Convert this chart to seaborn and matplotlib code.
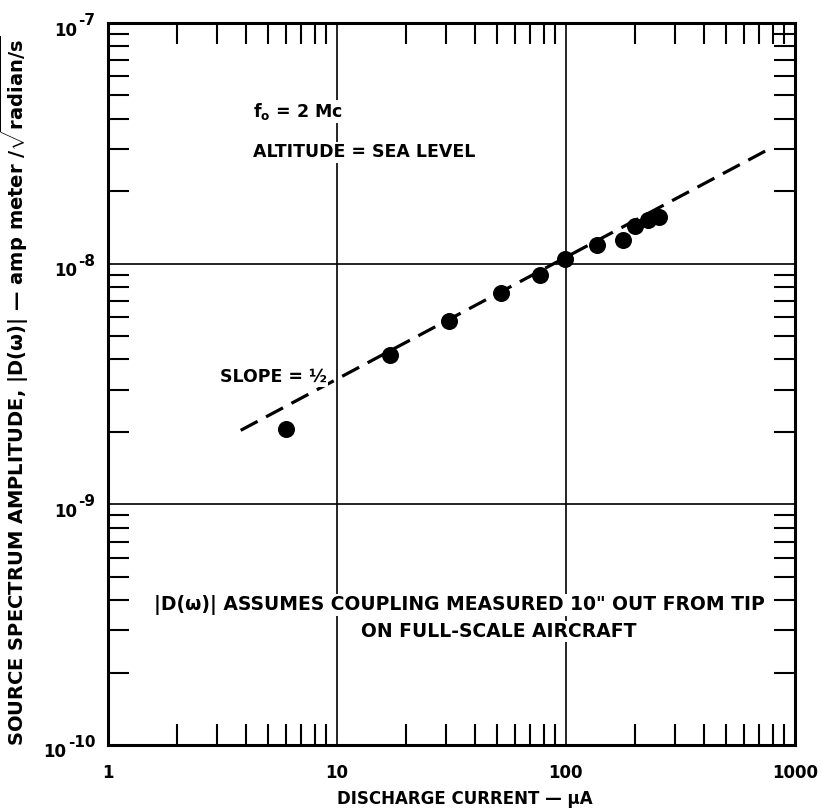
import matplotlib
matplotlib.use("Agg")
import matplotlib.pyplot as plt
import matplotlib.transforms as mtrans
import seaborn as sns
from matplotlib.ticker import LogLocator, FixedLocator, FixedFormatter, NullFormatter

# ---- data ----
current_uA = [6.0, 17.0, 31.0, 52.0, 77.0, 99.0, 137.0, 177.0, 201.0, 228.0, 256.0]
amplitude = [2.05e-9, 4.19e-9, 5.8e-9, 7.58e-9, 9.0e-9, 1.05e-8,
             1.2e-8, 1.25e-8, 1.44e-8, 1.52e-8, 1.57e-8]

# slope = 1/2 line (end points)
fit_current = [3.8, 750.0]
fit_amplitude = [2.03e-9, 2.95e-8]

x_ticks = [1, 10, 100, 1000]
x_tick_labels = ["1", "10", "100", "1000"]
y_ticks = [1e-10, 1e-9, 1e-8, 1e-7]
y_exponents = ["-10", "-9", "-8", "-7"]

# ---- style ----
sns.set_theme(style="ticks")
plt.rcParams["font.family"] = ["DejaVu Sans"]
plt.rcParams["font.weight"] = "bold"
plt.rcParams["text.color"] = "black"
plt.rcParams["axes.labelcolor"] = "black"
plt.rcParams["xtick.color"] = "black"
plt.rcParams["ytick.color"] = "black"
plt.rcParams["mathtext.fontset"] = "custom"
plt.rcParams["mathtext.rm"] = "DejaVu Sans:bold"
plt.rcParams["mathtext.bf"] = "DejaVu Sans:bold"
plt.rcParams["mathtext.it"] = "DejaVu Sans:bold"

fig = plt.figure(figsize=(8.21, 8.08), dpi=100)
ax = fig.add_axes([0.1315, 0.078, 0.8365, 0.8935])
ax.set(xscale="log", yscale="log")

sns.lineplot(x=fit_current, y=fit_amplitude, ax=ax, color="black", lw=2.3,
             linestyle=(0, (6, 3)), zorder=3)
sns.scatterplot(x=current_uA, y=amplitude, ax=ax, s=150, color="black",
                edgecolor="black", linewidth=0, zorder=4)

ax.set_xlim(1, 1000)
ax.set_ylim(1e-10, 1e-7)

ax.xaxis.set_major_locator(FixedLocator(x_ticks))
ax.xaxis.set_major_formatter(FixedFormatter(x_tick_labels))
ax.yaxis.set_major_locator(FixedLocator(y_ticks))
ax.yaxis.set_major_formatter(NullFormatter())
ax.xaxis.set_minor_locator(LogLocator(base=10, subs=range(2, 10), numticks=20))
ax.yaxis.set_minor_locator(LogLocator(base=10, subs=range(2, 10), numticks=20))
ax.xaxis.set_minor_formatter(NullFormatter())
ax.yaxis.set_minor_formatter(NullFormatter())

ax.grid(True, which="major", color="black", lw=1.2)
ax.tick_params(which="major", direction="in", length=0, labelsize=12, pad=14,
               colors="black")
ax.tick_params(which="minor", direction="in", length=15, width=1.5,
               top=True, right=True, bottom=True, left=True, color="black")
for sp in ax.spines.values():
    sp.set_linewidth(2.2)
    sp.set_color("black")

# y tick labels: "10" with a large exponent
trans = mtrans.blended_transform_factory(ax.transAxes, ax.transData)
for yv, ex in zip(y_ticks, y_exponents):
    e = ax.annotate(ex, xy=(0, yv), xycoords=trans, xytext=(-9, -1.5),
                    textcoords="offset points", ha="right", va="baseline",
                    fontsize=11, color="black")
    fig.canvas.draw()
    w = e.get_window_extent().width * 72 / fig.dpi
    ax.annotate("10", xy=(0, yv), xycoords=trans, xytext=(-9 - w - 1, -9),
                textcoords="offset points", ha="right", va="baseline",
                fontsize=12, color="black")

ax.set_xlabel("DISCHARGE CURRENT \u2014 \u03bcA", fontsize=12, fontweight="bold")
ax.xaxis.set_label_coords(0.52, -0.062)
ax.set_ylabel("SOURCE SPECTRUM AMPLITUDE, |D(\u03c9)| \u2014 amp meter /"
              r"$\sqrt{\mathrm{radian/s}}$", fontsize=14, fontweight="bold")
ax.yaxis.set_label_coords(-0.112, 0.49)

box = dict(facecolor="white", edgecolor="none", pad=1)
ax.text(4.29, 4.07e-8, r"f$_{\mathrm{o}}$ = 2 Mc", fontsize=12.5, va="baseline",
        ha="left", bbox=box)
ax.text(4.29, 2.77e-8, "ALTITUDE = SEA LEVEL", fontsize=12.5, va="baseline",
        ha="left", bbox=box)
ax.text(3.08, 3.23e-9, "SLOPE = \u00bd", fontsize=12.5, va="baseline",
        ha="left", bbox=box)
ax.text(34.3, 3.64e-10, "|D(\u03c9)| ASSUMES COUPLING MEASURED 10\" OUT FROM TIP",
        fontsize=13.5, va="baseline", ha="center", bbox=box)
ax.text(51, 2.81e-10, "ON FULL-SCALE AIRCRAFT", fontsize=13.5, va="baseline",
        ha="center", bbox=box)

fig.savefig("out.png", dpi=100)
